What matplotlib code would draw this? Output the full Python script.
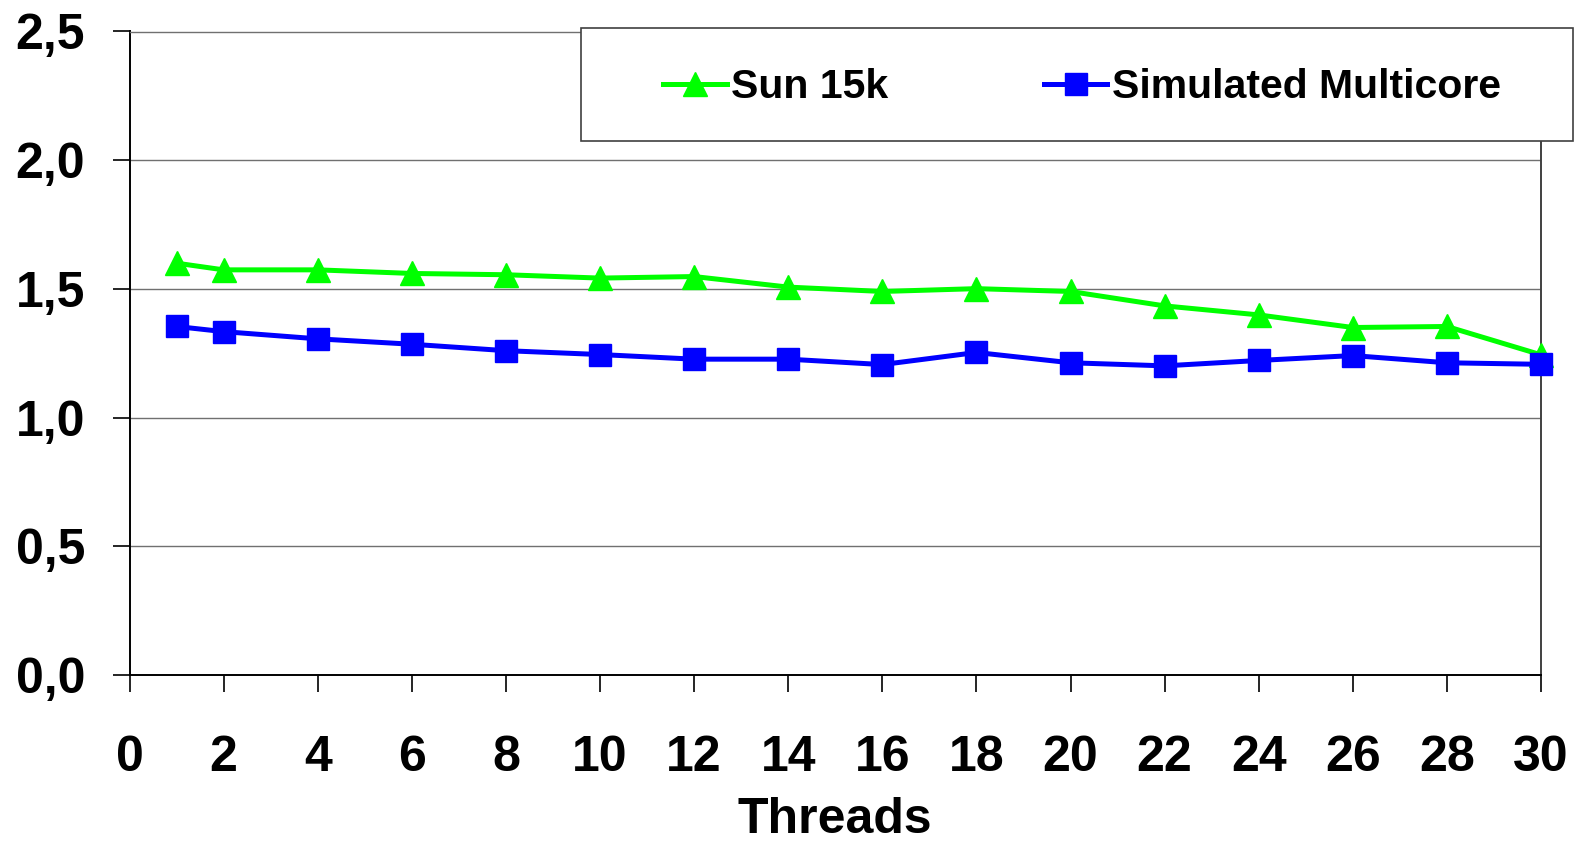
import matplotlib
matplotlib.use('Agg')
import matplotlib.pyplot as plt
from matplotlib.patches import Rectangle
from matplotlib.lines import Line2D

threads = [1, 2, 4, 6, 8, 10, 12, 14, 16, 18, 20, 22, 24, 26, 28, 30]
sun15k = [1.600, 1.574, 1.574, 1.560, 1.555, 1.542, 1.548, 1.507, 1.490, 1.501,
          1.490, 1.434, 1.399, 1.350, 1.354, 1.244]
simulated = [1.354, 1.334, 1.306, 1.285, 1.260, 1.245, 1.227, 1.227, 1.206, 1.253,
             1.213, 1.201, 1.222, 1.241, 1.213, 1.207]
x_ticks = list(range(0, 31, 2))
y_ticks = [0.0, 0.5, 1.0, 1.5, 2.0, 2.5]
y_labels = ['0,0', '0,5', '1,0', '1,5', '2,0', '2,5']
series_names = ['Sun 15k', 'Simulated Multicore']

plt.rcParams['font.family'] = ['Liberation Sans', 'DejaVu Sans']
plt.rcParams['font.weight'] = 'bold'

W, H = 1586, 842
fig = plt.figure(figsize=(W / 100, H / 100), dpi=100)
L, R, T, B = 129.5, 1541, 31.5, 675
ax = fig.add_axes([L / W, 1 - B / H, (R - L) / W, (B - T) / H])

ax.plot(threads, sun15k, color='#00FF00', lw=3.6, marker='^', ms=17,
        clip_on=False, zorder=3)
ax.plot(threads, simulated, color='#0000FF', lw=3.6, marker='s', ms=16,
        clip_on=False, zorder=4)

ax.set_xlim(0, 30)
ax.set_ylim(0, 2.5)
ax.set_xticks(x_ticks)
ax.set_xticklabels([str(v) for v in x_ticks], fontsize=36, fontweight='bold')
ax.set_yticks(y_ticks)
ax.set_yticklabels(y_labels, fontsize=36, fontweight='bold')
ax.tick_params(axis='x', direction='out', length=12, width=1.2, pad=31, colors='black')
ax.tick_params(axis='y', direction='out', length=12, width=1.2, pad=20, colors='black')
ax.grid(axis='y', color='#707070', lw=1.0)
ax.set_axisbelow(True)
for s in ['left', 'bottom']:
    ax.spines[s].set_color('black')
    ax.spines[s].set_linewidth(1.4)
ax.spines['right'].set_color('#404040')
ax.spines['right'].set_linewidth(1.4)
ax.spines['top'].set_color('#707070')
ax.spines['top'].set_linewidth(1.0)
ax.set_xlabel('Threads', fontsize=36, fontweight='bold', labelpad=12)

# legend box
bx0, bx1, by0, by1 = 581, 1573, 27.5, 140.5
rect = Rectangle((bx0 / W, 1 - by1 / H), (bx1 - bx0) / W, (by1 - by0) / H,
                 transform=fig.transFigure, facecolor='white', edgecolor='#404040',
                 lw=1.2, zorder=10)
fig.patches.append(rect)
handles = [Line2D([], [], color='#00FF00', lw=3.6, marker='^', ms=17),
           Line2D([], [], color='#0000FF', lw=3.6, marker='s', ms=16)]
leg = fig.legend(handles, series_names, loc='center',
                 bbox_to_anchor=(1082 / W, 1 - 87 / H), ncol=2, frameon=False,
                 prop={'family': 'Liberation Sans', 'weight': 'bold', 'size': 29.5},
                 handlelength=1.55, handletextpad=0.1, columnspacing=3.8)
leg.set_zorder(11)

fig.savefig('out.png', dpi=100)
